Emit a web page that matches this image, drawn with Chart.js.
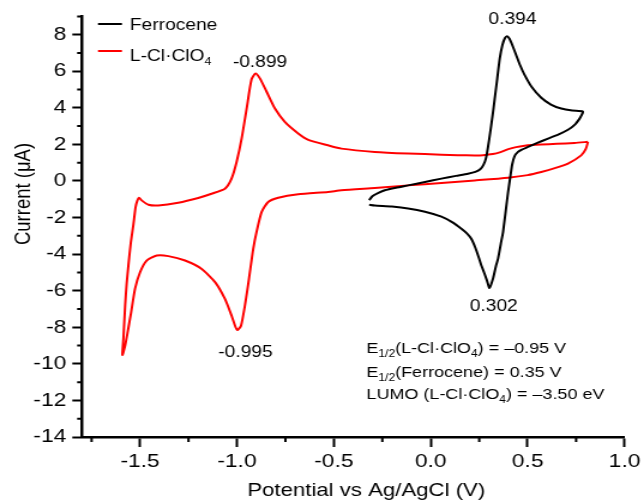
<!DOCTYPE html>
<html>
<head>
<meta charset="utf-8">
<script src="https://cdn.jsdelivr.net/npm/chart.js@4.4.1/dist/chart.umd.min.js"></script>
<style>
  html, body { margin: 0; padding: 0; background: #fff; }
</style>
</head>
<body>
<!-- the reference is a horizontally stretched export, so the canvas is drawn narrow and widened -->
<canvas id="cv" width="537" height="502" style="display:block;width:644px;height:502px"></canvas>
<script>
// Ferrocene loop: potential (V) and current (uA), forward sweep then back
const ferroceneE = [-0.318, -0.300, -0.270, -0.237, -0.180, -0.117, -0.030, 0.055, 0.130, 0.192,
    0.230, 0.255, 0.272, 0.285, 0.296, 0.306, 0.318, 0.330, 0.343, 0.356,
    0.370, 0.383, 0.394, 0.406, 0.420, 0.440, 0.462, 0.484, 0.520, 0.570,
    0.620, 0.673, 0.730, 0.785,
    0.778, 0.768, 0.745, 0.708, 0.660, 0.605, 0.550, 0.502, 0.470, 0.450,
    0.432, 0.420, 0.410, 0.399, 0.386, 0.373, 0.362, 0.347, 0.337, 0.322,
    0.303, 0.290, 0.275, 0.261, 0.248, 0.230, 0.209, 0.185, 0.158, 0.110,
    0.055, -0.030, -0.117, -0.200, -0.289, -0.318];
const ferroceneI = [-1.05, -0.82, -0.65, -0.51, -0.37, -0.24, -0.06, 0.13, 0.28, 0.40,
    0.50, 0.64, 0.88, 1.25, 1.90, 2.60, 3.50, 4.50, 5.60, 6.70,
    7.45, 7.82, 7.92, 7.78, 7.45, 6.90, 6.30, 5.80, 5.15, 4.55,
    4.18, 3.96, 3.85, 3.80,
    3.60, 3.41, 3.10, 2.80, 2.55, 2.32, 2.08, 1.86, 1.72, 1.59,
    1.35, 0.90, 0.20, -0.60, -1.70, -2.79, -3.40, -4.26, -4.62, -5.30,
    -5.85, -5.45, -5.00, -4.62, -4.20, -3.65, -3.16, -2.85, -2.61, -2.25,
    -1.95, -1.68, -1.50, -1.40, -1.34, -1.30];

// L-Cl·ClO4 loop: from the right turning point, upper branch leftwards, lower branch back
const ligandE = [0.811, 0.742, 0.650, 0.570, 0.520, 0.484, 0.440, 0.400, 0.360, 0.320,
    0.270, 0.227, 0.140, 0.055, -0.117, -0.289, -0.461, -0.530, -0.632, -0.684,
    -0.753, -0.804, -0.847, -0.881, -0.904, -0.925, -0.950, -0.976, -1.002, -1.028,
    -1.062, -1.131, -1.200, -1.303, -1.406, -1.457, -1.492, -1.505, -1.515, -1.523,
    -1.535, -1.548, -1.560, -1.569, -1.577, -1.586, -1.591,
    -1.577, -1.564, -1.546, -1.526, -1.500, -1.466, -1.414, -1.354, -1.268, -1.182,
    -1.113, -1.062, -1.028, -1.007, -0.997, -0.979, -0.959, -0.938, -0.916, -0.899,
    -0.873, -0.839, -0.787, -0.684, -0.530, -0.461, -0.289, -0.117, 0.055, 0.227,
    0.399, 0.500, 0.570, 0.640, 0.708, 0.776, 0.800, 0.811];
const ligandI = [2.14, 2.08, 2.03, 2.00, 1.97, 1.93, 1.85, 1.74, 1.58, 1.47,
    1.41, 1.40, 1.41, 1.44, 1.50, 1.59, 1.77, 1.95, 2.25, 2.60,
    3.23, 3.96, 4.88, 5.60, 5.88, 5.55, 3.96, 2.32, 1.04, 0.13,
    -0.42, -0.70, -0.93, -1.19, -1.34, -1.30, -1.06, -0.92, -1.10, -1.43,
    -2.43, -3.40, -4.60, -5.60, -6.82, -8.64, -9.52,
    -9.00, -8.27, -7.18, -5.90, -4.99, -4.35, -4.08, -4.11, -4.35, -4.81,
    -5.53, -6.45, -7.36, -8.00, -8.15, -7.91, -6.82, -5.35, -3.71, -2.79,
    -1.70, -1.15, -0.92, -0.73, -0.60, -0.51, -0.38, -0.24, -0.11, 0.03,
    0.18, 0.32, 0.49, 0.70, 0.95, 1.40, 1.75, 2.14];

const xTicks = [-1.5, -1.0, -0.5, 0.0, 0.5, 1.0];
const xMinorTicks = [-1.75, -1.25, -0.75, -0.25, 0.25, 0.75];
const yTicks = [-14, -12, -10, -8, -6, -4, -2, 0, 2, 4, 6, 8];
const yMinorTicks = [-13, -11, -9, -7, -5, -3, -1, 1, 3, 5, 7, 9];

// peak potentials written next to the curves, anchored in data units
const peakText = ['-0.899', '0.394', '-0.995', '0.302'];
const peakE = [-0.881, 0.422, -0.956, 0.325];
const peakI = [6.48, 8.80, -9.37, -6.88];

// note block: [text, isSubscript] pieces for each line
const noteLines = [
    [['E', false], ['1/2', true], ['(L-Cl\u00b7ClO', false], ['4', true], [') = \u20130.95 V', false]],
    [['E', false], ['1/2', true], ['(Ferrocene) = 0.35 V', false]],
    [['LUMO (L-Cl\u00b7ClO', false], ['4', true], [') = \u20133.50 eV', false]]
];
const noteE = -0.332;
const noteI = [-9.13, -10.42, -11.65];

const FAMILY = '"Liberation Sans", Arial, Helvetica, sans-serif';
const font = size => size + 'px ' + FAMILY;

// draws a row of normal / subscript pieces starting at x on baseline y
function drawRich(ctx, x, y, parts, size, subSize) {
    ctx.textAlign = 'left';
    ctx.textBaseline = 'alphabetic';
    parts.forEach(([t, sub]) => {
        ctx.font = font(sub ? subSize : size);
        ctx.fillText(t, x, sub ? y + 4 : y);
        x += ctx.measureText(t).width;
    });
}

const decor = {
    id: 'decor',
    afterDraw(chart) {
        const ctx = chart.ctx;
        const xs = chart.scales.x;
        const ys = chart.scales.y;
        const area = chart.chartArea;
        ctx.save();

        // minor tick marks
        ctx.strokeStyle = '#000';
        ctx.lineWidth = 2;
        ctx.beginPath();
        xMinorTicks.forEach(v => {
            const px = xs.getPixelForValue(v);
            ctx.moveTo(px, area.bottom);
            ctx.lineTo(px, area.bottom + 5);
        });
        yMinorTicks.forEach(v => {
            const py = ys.getPixelForValue(v);
            ctx.moveTo(area.left - 4, py);
            ctx.lineTo(area.left, py);
        });
        ctx.stroke();

        ctx.fillStyle = '#000';

        // axis titles
        ctx.font = font(18.5);
        ctx.textAlign = 'center';
        ctx.textBaseline = 'middle';
        ctx.fillText('Potential vs Ag/AgCl (V)', 305.4, 490.5);
        ctx.save();
        ctx.translate(19.6, 194);
        ctx.rotate(-Math.PI / 2);
        ctx.fillText('Current (\u03bcA)', 0, 0);
        ctx.restore();

        // peak labels
        ctx.font = font(16);
        peakText.forEach((t, k) => {
            ctx.fillText(t, xs.getPixelForValue(peakE[k]), ys.getPixelForValue(peakI[k]));
        });

        // notes
        noteLines.forEach((parts, k) => {
            const base = ys.getPixelForValue(noteI[k]) + 5.4;
            drawRich(ctx, xs.getPixelForValue(noteE), base, parts, 15, 10);
        });

        // legend inside the top left corner
        const series = chart.data.datasets;
        const rows = [24, 51];
        series.forEach((ds, k) => {
            ctx.strokeStyle = ds.borderColor;
            ctx.lineWidth = 2;
            ctx.beginPath();
            ctx.moveTo(area.left + 13.4, rows[k]);
            ctx.lineTo(area.left + 33.4, rows[k]);
            ctx.stroke();
        });
        ctx.fillStyle = '#000';
        drawRich(ctx, area.left + 40, 29.5, [['Ferrocene', false]], 16, 10.5);
        drawRich(ctx, area.left + 40, 61, [['L-Cl\u00b7ClO', false], ['4', true]], 16, 10.5);

        ctx.restore();
    }
};

const ctx = document.getElementById('cv').getContext('2d');
new Chart(ctx, {
    type: 'scatter',
    data: {
        datasets: [{
            label: 'Ferrocene',
            data: ferroceneE.map((e, k) => ({ x: e, y: ferroceneI[k] })),
            showLine: true,
            borderColor: '#000000',
            borderWidth: 2,
            pointRadius: 0,
            tension: 0.2,
            fill: false
        }, {
            label: 'L-Cl\u00b7ClO\u2084',
            data: ligandE.map((e, k) => ({ x: e, y: ligandI[k] })),
            showLine: true,
            borderColor: '#ff0000',
            borderWidth: 2,
            pointRadius: 0,
            tension: 0.2,
            fill: false
        }]
    },
    options: {
        responsive: false,
        animation: false,
        devicePixelRatio: 1,
        events: [],
        layout: { padding: { top: 16, right: 14.5, left: 0, bottom: 0 } },
        plugins: {
            legend: { display: false },
            tooltip: { enabled: false }
        },
        scales: {
            x: {
                type: 'linear',
                min: -1.8,
                max: 1.0,
                afterBuildTicks: s => { s.ticks = xTicks.map(v => ({ value: v })); },
                afterFit: s => { s.height = 65; },
                grid: { display: true, drawOnChartArea: false, drawTicks: true, tickLength: 10, tickWidth: 2, tickColor: '#000' },
                border: { display: true, color: '#000', width: 2.5 },
                ticks: {
                    color: '#000',
                    padding: 3,
                    maxRotation: 0,
                    autoSkip: false,
                    font: { family: FAMILY, size: 19 },
                    callback: v => Number(v).toFixed(1)
                }
            },
            y: {
                type: 'linear',
                min: -14,
                max: 9,
                afterBuildTicks: s => { s.ticks = yTicks.map(v => ({ value: v })); },
                afterFit: s => { s.width = 68.3; },
                grid: { display: true, drawOnChartArea: false, drawTicks: true, tickLength: 8, tickWidth: 2, tickColor: '#000' },
                border: { display: true, color: '#000', width: 2.5 },
                ticks: {
                    color: '#000',
                    padding: 5,
                    autoSkip: false,
                    font: { family: FAMILY, size: 19 },
                    callback: v => String(v)
                }
            }
        }
    },
    plugins: [decor]
});
</script>
</body>
</html>
